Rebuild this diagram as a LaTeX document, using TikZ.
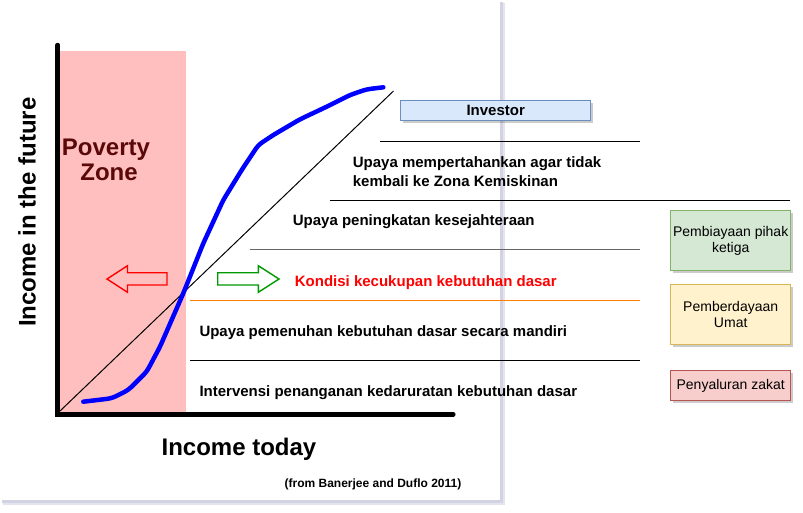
\documentclass[tikz,border=0pt]{standalone}
\usepackage{fontspec}
\setmainfont{Liberation Sans}
\usetikzlibrary{shadows}
\definecolor{zonepink}{HTML}{FFBFBF}
\definecolor{zonetext}{HTML}{5A0808}
\definecolor{framesh}{HTML}{D2D2E2}
\definecolor{curveblue}{HTML}{0000FF}
\definecolor{arrowred}{HTML}{FF0000}
\definecolor{arrowgreen}{HTML}{009900}
\definecolor{levelorange}{HTML}{FF8000}
\definecolor{invfill}{HTML}{DAE8FC}\definecolor{invdraw}{HTML}{6C8EBF}
\definecolor{grnfill}{HTML}{D5E8D4}\definecolor{grndraw}{HTML}{82B366}
\definecolor{ylwfill}{HTML}{FFF2CC}\definecolor{ylwdraw}{HTML}{D6B656}
\definecolor{redfill}{HTML}{F8CECC}\definecolor{reddraw}{HTML}{B85450}
\begin{document}
\begin{tikzpicture}[x=1pt,y=-1pt,
  axislabel/.style={font=\fontsize{24}{26}\selectfont\bfseries},
  rowtext/.style={anchor=base west,inner sep=0pt,font=\fontsize{15}{18}\selectfont\bfseries},
  levelline/.style={line width=1pt},
  sidebox/.style={draw,line width=0.8pt,minimum width=120pt,inner sep=2pt,align=center,
    font=\fontsize{14}{16.5}\selectfont,
    drop shadow={shadow xshift=2pt,shadow yshift=-2.5pt,opacity=0.2,fill=black}},
  blockarrow/.style={line width=1.4pt,line join=miter}]
\useasboundingbox (0,0) rectangle (803,512);
\fill[white] (0,0) rectangle (803,512);

% chart frame with its soft edge
\fill[framesh!60] (3,3) rectangle (505,505);
\fill[framesh] (2,2) rectangle (503,503);
\fill[white] (0,0) rectangle (500,500);

% poverty zone band
\fill[zonepink] (60,51) rectangle (186,413);
\node[axislabel,text=zonetext,anchor=base] (povA) at (106,155) {Poverty};
\node[axislabel,text=zonetext,anchor=base] (povB) at (109,180) {Zone};

% 45-degree reference line
\coordinate (o) at (60,411);
\coordinate (d) at (393.5,91);
\draw[line width=1pt] (o) -- (d);

% S-shaped income curve
\draw[curveblue,line width=4.5pt,line cap=round,line join=round,rounded corners=4pt]
  plot coordinates {(83.3,401.7) (111.7,398.3) (128.3,390) (146.7,371.7)
  (160,346.7) (183.3,293.3) (203.3,243.3) (223.3,200) (241.7,170) (258.3,145)
  (273.3,135) (300,119.3) (326.7,106.7) (350,95) (366.7,89.3) (383.3,87.3)};

% axes
\coordinate (ytop) at (57.7,45);
\coordinate (orig) at (57.7,414.3);
\coordinate (xend) at (453.3,414.3);
\draw[line width=4.5pt,line cap=round,line join=miter] (ytop) -- (orig) -- (xend);

\node[axislabel,rotate=90] (ylab) at (27,212) {Income in the future};
\node[axislabel,anchor=base] (xlab) at (239,455) {Income today};
\node[font=\fontsize{12}{14}\selectfont\bfseries,anchor=base] (src) at (373,487) {(from Banerjee and Duflo 2011)};

% hollow block arrows
\draw[arrowred,blockarrow] (107,279) -- (127.5,265.7) -- (127.5,272.7) -- (167,272.7)
  -- (167,285) -- (127.5,285) -- (127.5,292.3) -- cycle;
\draw[arrowgreen,blockarrow] (279,279) -- (258.3,265.7) -- (258.3,272.7) -- (217.7,272.7)
  -- (217.7,285) -- (258.3,285) -- (258.3,292.3) -- cycle;

% level separators
\coordinate (l1a) at (380,141.5); \coordinate (l1b) at (640,141.5);
\coordinate (l2a) at (330,200.5); \coordinate (l2b) at (790,200.5);
\coordinate (l3a) at (250,249.7); \coordinate (l3b) at (640,249.7);
\coordinate (l4a) at (190,300.3); \coordinate (l4b) at (640,300.3);
\coordinate (l5a) at (190,360.3); \coordinate (l5b) at (640,360.3);
\draw[levelline] (l1a) -- (l1b);
\draw[levelline] (l2a) -- (l2b);
\draw[levelline,draw=black!60,line width=1.3pt] (l3a) -- (l3b);
\draw[levelline,draw=levelorange,line width=1.5pt] (l4a) -- (l4b);
\draw[levelline] (l5a) -- (l5b);

% level descriptions
\node[sidebox,fill=invfill,draw=invdraw,minimum width=190pt,minimum height=20pt,
  font=\fontsize{15}{18}\selectfont\bfseries] (inv) at (495.7,110.7) {Investor};
\node[rowtext] (t1a) at (352.7,167) {Upaya mempertahankan agar tidak};
\node[rowtext] (t1b) at (352.7,186) {kembali ke Zona Kemiskinan};
\node[rowtext] (t2) at (292.7,225.7) {Upaya peningkatan kesejahteraan};
\node[rowtext,text=arrowred] (t3) at (294.7,286) {Kondisi kecukupan kebutuhan dasar};
\node[rowtext] (t4) at (199.3,336) {Upaya pemenuhan kebutuhan dasar secara mandiri};
\node[rowtext] (t5) at (199.3,396) {Intervensi penanganan kedaruratan kebutuhan dasar};

% funding sources
\node[sidebox,fill=grnfill,draw=grndraw,minimum height=60pt] (b1) at (730.7,240.7) {Pembiayaan pihak\\ketiga};
\node[sidebox,fill=ylwfill,draw=ylwdraw,minimum height=60pt] (b2) at (730.7,314.3) {Pemberdayaan\\Umat};
\node[sidebox,fill=redfill,draw=reddraw,minimum height=30pt] (b3) at (730.7,385.7) {Penyaluran zakat};
\end{tikzpicture}
\end{document}
